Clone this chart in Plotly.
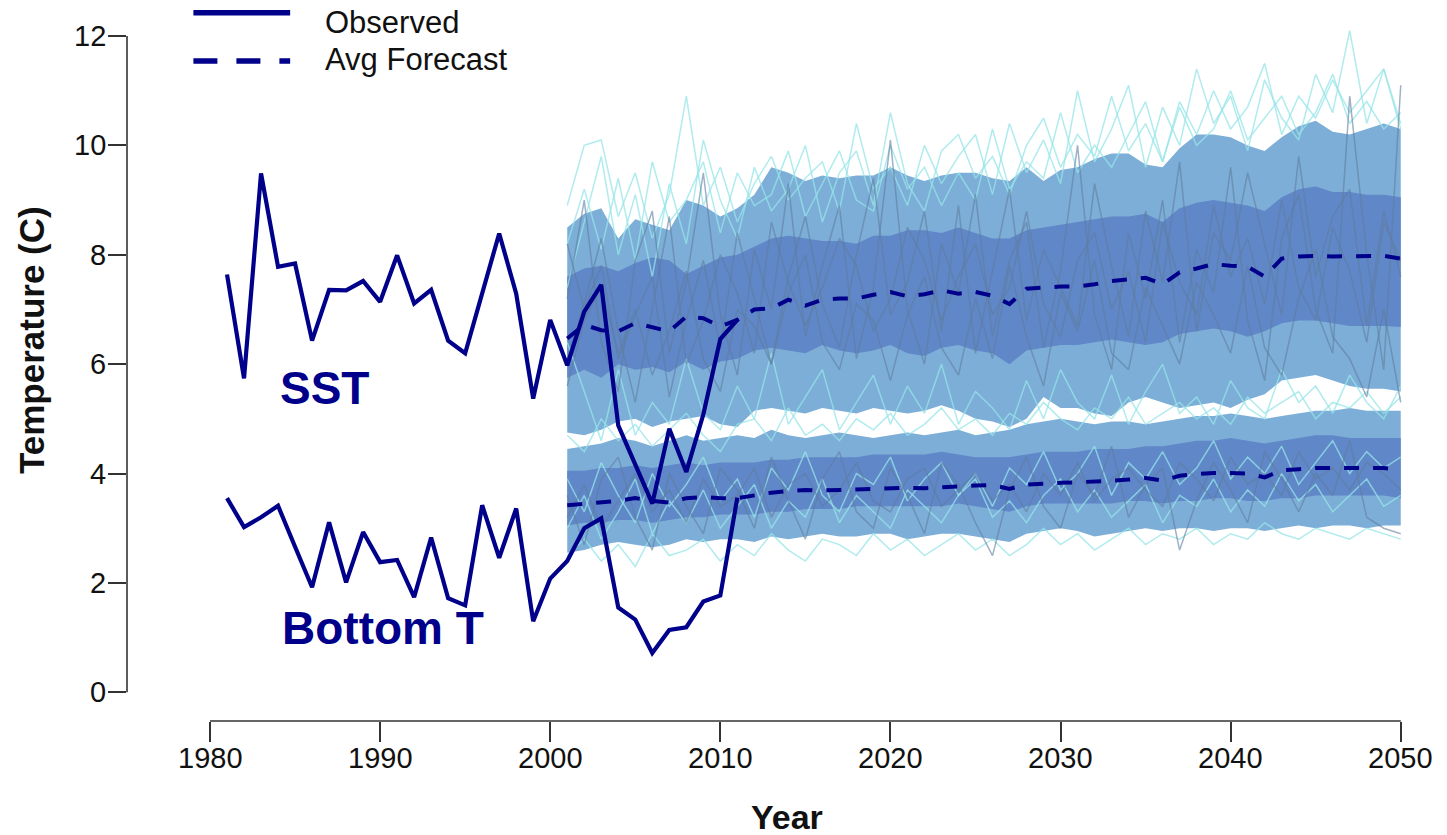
import plotly.graph_objects as go

# ---------------- data ----------------
years_obs = list(range(1981, 2012))
sst_obs = [7.64, 5.74, 9.49, 7.78, 7.84, 6.43, 7.36, 7.35, 7.52, 7.14,
           7.99, 7.11, 7.36, 6.43, 6.20, 7.30, 8.39, 7.29, 5.37, 6.81,
           5.98, 6.96, 7.45, 4.88, 4.16, 3.45, 4.82, 4.03, 5.08, 6.46, 6.81]
bot_obs = [3.55, 3.02, 3.20, 3.41, 2.66, 1.92, 3.11, 2.01, 2.93, 2.38,
           2.42, 1.74, 2.83, 1.72, 1.59, 3.42, 2.46, 3.36, 1.30, 2.08,
           2.40, 3.00, 3.18, 1.55, 1.33, 0.72, 1.14, 1.19, 1.66, 1.77, 3.56]

years_fc = list(range(2001, 2051))

sst_avg = [6.47, 6.72, 6.62, 6.60, 6.75, 6.68, 6.60, 6.87, 6.84, 6.69,
           6.81, 7.00, 7.02, 7.18, 7.07, 7.18, 7.20, 7.20, 7.27, 7.32,
           7.24, 7.28, 7.35, 7.29, 7.32, 7.25, 7.10, 7.38, 7.40, 7.42,
           7.42, 7.46, 7.52, 7.55, 7.58, 7.46, 7.68, 7.75, 7.83, 7.80,
           7.78, 7.60, 7.93, 7.97, 7.98, 7.97, 7.97, 7.98, 7.98, 7.93]
bot_avg = [3.42, 3.45, 3.47, 3.50, 3.55, 3.50, 3.47, 3.55, 3.57, 3.55,
           3.55, 3.60, 3.65, 3.68, 3.70, 3.69, 3.70, 3.71, 3.72, 3.74,
           3.74, 3.73, 3.75, 3.76, 3.78, 3.79, 3.72, 3.80, 3.82, 3.83,
           3.84, 3.85, 3.87, 3.89, 3.92, 3.87, 3.96, 3.99, 4.01, 4.01,
           4.00, 3.93, 4.06, 4.08, 4.10, 4.10, 4.10, 4.10, 4.10, 4.07]

# SST forecast envelopes (outer = 95%, inner = 50%)
sst_hi95 = [8.50, 8.75, 8.85, 8.30, 8.65, 8.55, 8.45, 9.00, 8.90, 8.70,
            8.85, 9.10, 9.60, 9.50, 9.35, 9.45, 9.40, 9.45, 9.45, 9.60,
            9.45, 9.35, 9.45, 9.50, 9.50, 9.40, 9.35, 9.60, 9.35, 9.55,
            9.60, 9.75, 9.85, 9.85, 9.65, 9.60, 9.95, 10.20, 10.20, 10.15,
            10.00, 9.90, 10.15, 10.35, 10.45, 10.25, 10.20, 10.30, 10.40, 10.30]
sst_hi50 = [7.60, 7.75, 7.80, 7.70, 7.85, 7.95, 7.90, 7.65, 7.80, 7.95,
            8.00, 8.15, 8.30, 8.35, 8.30, 8.25, 8.25, 8.20, 8.35, 8.35,
            8.45, 8.45, 8.40, 8.50, 8.40, 8.30, 8.30, 8.45, 8.50, 8.55,
            8.60, 8.65, 8.70, 8.70, 8.75, 8.60, 8.85, 8.95, 9.00, 8.95,
            8.90, 8.80, 9.05, 9.20, 9.25, 9.15, 9.15, 9.10, 9.10, 9.05]
sst_lo50 = [5.75, 5.90, 5.75, 6.00, 5.90, 5.95, 5.85, 6.05, 5.90, 6.05,
            6.10, 6.25, 6.30, 6.25, 6.20, 6.35, 6.25, 6.20, 6.25, 6.35,
            6.20, 6.15, 6.30, 6.35, 6.25, 6.20, 6.00, 6.25, 6.30, 6.35,
            6.35, 6.40, 6.45, 6.40, 6.35, 6.40, 6.55, 6.60, 6.65, 6.60,
            6.50, 6.60, 6.75, 6.80, 6.80, 6.75, 6.70, 6.70, 6.70, 6.68]
sst_lo95 = [4.75, 4.70, 4.80, 4.95, 5.00, 4.85, 4.95, 5.00, 5.05, 4.90,
            4.85, 5.15, 5.20, 5.15, 5.10, 5.20, 5.15, 5.10, 5.20, 5.15,
            5.10, 5.15, 5.25, 5.15, 5.00, 4.95, 4.85, 5.00, 5.40, 5.20,
            5.20, 5.10, 5.05, 5.30, 5.40, 5.30, 5.20, 5.25, 5.30, 5.20,
            5.35, 5.45, 5.70, 5.75, 5.80, 5.70, 5.60, 5.55, 5.55, 5.50]

# Bottom temperature forecast envelopes
bot_hi95 = [4.45, 4.50, 4.55, 4.65, 4.60, 4.50, 4.60, 4.70, 4.60, 4.65,
            4.70, 4.65, 4.80, 4.70, 4.65, 4.70, 4.75, 4.70, 4.65, 4.70,
            4.75, 4.70, 4.75, 4.80, 4.70, 4.75, 4.80, 4.90, 4.95, 5.00,
            4.95, 4.90, 4.95, 4.95, 4.90, 4.95, 5.00, 5.05, 5.05, 5.10,
            5.05, 5.00, 5.05, 5.10, 5.15, 5.15, 5.20, 5.15, 5.15, 5.15]
bot_hi50 = [4.05, 4.05, 4.10, 4.10, 4.15, 4.10, 4.15, 4.20, 4.15, 4.20,
            4.20, 4.20, 4.25, 4.25, 4.30, 4.30, 4.30, 4.30, 4.35, 4.35,
            4.35, 4.35, 4.40, 4.35, 4.30, 4.30, 4.30, 4.35, 4.40, 4.40,
            4.40, 4.45, 4.45, 4.45, 4.50, 4.50, 4.55, 4.60, 4.60, 4.65,
            4.60, 4.55, 4.60, 4.65, 4.70, 4.70, 4.65, 4.65, 4.65, 4.65]
bot_lo50 = [3.05, 3.10, 3.10, 3.15, 3.15, 3.10, 3.15, 3.20, 3.20, 3.25,
            3.25, 3.25, 3.30, 3.30, 3.35, 3.35, 3.35, 3.40, 3.40, 3.40,
            3.40, 3.40, 3.40, 3.45, 3.40, 3.35, 3.30, 3.40, 3.45, 3.45,
            3.45, 3.45, 3.45, 3.50, 3.50, 3.45, 3.50, 3.50, 3.55, 3.55,
            3.50, 3.50, 3.55, 3.55, 3.60, 3.60, 3.60, 3.60, 3.60, 3.55]
bot_lo95 = [2.55, 2.60, 2.70, 2.75, 2.70, 2.65, 2.70, 2.80, 2.75, 2.80,
            2.80, 2.75, 2.85, 2.80, 2.85, 2.90, 2.85, 2.85, 2.90, 2.90,
            2.80, 2.85, 2.90, 2.90, 2.85, 2.80, 2.75, 2.90, 2.95, 3.00,
            2.95, 2.85, 2.90, 2.95, 3.00, 2.95, 3.00, 3.00, 2.95, 3.00,
            3.00, 2.95, 3.00, 3.05, 3.00, 3.05, 3.05, 3.00, 3.05, 3.05]

# Individual ensemble members
sst_members_light = [
    [8.9, 10.0, 10.1, 8.7, 9.5, 8.3, 9.1, 10.9, 8.9, 9.6, 8.6, 9.3, 9.8, 9.0, 9.4,
     9.7, 8.8, 10.4, 9.2, 9.6, 8.9, 10.0, 9.3, 9.8, 10.2, 9.1, 10.4, 9.5, 10.1, 9.3,
     11.0, 9.7, 10.3, 11.1, 9.6, 10.7, 10.0, 11.4, 10.4, 10.9, 9.9, 11.2, 10.5, 10.1, 11.3,
     10.6, 12.1, 10.4, 11.4, 10.3],
    [6.4, 5.5, 4.6, 5.9, 4.7, 5.3, 4.9, 6.1, 5.1, 4.8, 5.6, 5.0, 6.2, 4.9, 5.4,
     5.9, 4.8, 5.3, 5.8, 4.9, 5.6, 5.1, 6.0, 4.9, 5.5, 5.2, 4.8, 5.7, 5.0, 5.9,
     5.3, 5.0, 5.8, 4.9, 5.5, 6.0, 5.1, 5.4, 4.9, 5.7, 5.2, 5.0, 5.9, 5.3, 5.6,
     5.1, 5.8, 5.3, 5.0, 5.6],
    [8.2, 9.2, 8.1, 9.4, 7.9, 9.7, 8.6, 9.0, 9.7, 8.4, 9.5, 8.9, 9.1, 9.9, 8.7,
     9.3, 9.9, 9.0, 8.8, 10.0, 9.2, 9.6, 8.9, 9.5, 9.0, 10.3, 9.2, 9.7, 9.4, 10.6,
     9.5, 10.0, 9.6, 10.2, 10.8, 9.7, 10.7, 10.0, 10.3, 11.0, 10.1, 10.5, 10.9, 10.2, 10.6,
     11.3, 10.4, 10.8, 10.3, 10.6],
    [7.4, 8.6, 9.8, 8.0, 9.1, 7.6, 9.3, 8.2, 10.1, 9.0, 8.3, 9.6, 8.8, 9.2, 10.0,
     8.6, 9.5, 9.9, 8.9, 10.6, 9.3, 8.8, 9.9, 10.2, 9.4, 9.8, 9.1, 10.0, 10.5, 9.6,
     10.2, 9.8, 10.9, 9.9, 10.4, 9.7, 10.8, 10.2, 11.0, 10.3, 10.7, 11.5, 10.2, 10.9, 10.5,
     11.2, 10.6, 11.0, 11.4, 10.4],
]
sst_members_dark = [
    [7.2, 9.0, 6.4, 5.5, 7.9, 8.8, 6.2, 7.5, 9.5, 6.9, 5.8, 8.1, 7.0, 9.3, 6.5,
     7.8, 8.9, 6.1, 7.4, 10.1, 7.0, 6.0, 8.2, 7.3, 9.1, 6.5, 7.9, 8.6, 6.3, 7.7,
     10.0, 6.9, 5.9, 8.4, 7.2, 9.0, 6.4, 8.1, 7.3, 9.6, 6.8, 5.7, 8.3, 9.1, 7.0,
     6.2, 10.9, 8.0, 5.9, 11.1],
    [6.0, 7.1, 8.3, 6.6, 5.3, 7.0, 8.7, 6.0, 6.8, 8.0, 7.3, 6.2, 8.6, 7.5, 6.7,
     7.4, 8.3, 7.8, 6.6, 7.2, 8.5, 7.9, 6.8, 7.6, 8.2, 6.9, 7.4, 8.8, 7.1, 6.5,
     7.9, 8.4, 7.0, 7.7, 6.4, 8.6, 7.5, 6.9, 8.9, 7.6, 8.3, 7.1, 9.0, 7.4, 6.8,
     8.5, 7.7, 6.4, 8.6, 7.9],
    [5.6, 6.8, 7.4, 6.2, 7.0, 5.8, 6.6, 7.7, 6.1, 5.5, 7.0, 6.7, 6.0, 7.3, 8.0,
     6.4, 5.9, 7.1, 6.8, 5.7, 6.9, 7.6, 6.3, 5.8, 7.2, 6.1, 7.8, 6.5, 5.6, 7.3,
     6.6, 7.9, 6.2, 5.9, 7.4, 6.7, 6.0, 7.5, 6.9, 6.2, 7.8, 6.3, 5.8, 7.2, 8.1,
     6.5, 6.1, 5.4, 7.0, 5.3],
    [8.2, 7.0, 7.8, 6.1, 6.9, 7.6, 5.4, 6.8, 7.9, 6.3, 8.4, 7.2, 6.0, 7.6, 8.7,
     7.1, 6.3, 8.0, 9.4, 6.9, 7.5, 8.8, 6.6, 8.9, 6.2, 7.7, 9.2, 6.8, 8.1, 7.4,
     6.7, 9.3, 7.8, 6.5, 8.8, 7.5, 9.7, 6.6, 8.4, 7.9, 9.5, 8.2, 6.9, 9.8, 7.6,
     8.7, 9.2, 6.7, 8.8, 7.6],
]
bot_members_light = [
    [4.7, 4.4, 5.0, 4.6, 4.9, 4.5, 4.8, 5.1, 4.7, 4.4, 4.9, 5.0, 4.6, 5.2, 4.7,
     4.9, 4.6, 5.0, 4.8, 5.1, 4.7, 4.9, 5.2, 4.8, 5.0, 4.7, 5.1, 4.9, 5.3, 5.0,
     4.8, 5.2, 5.0, 5.4, 4.9, 5.1, 5.3, 5.0, 5.2, 4.9, 5.4, 5.1, 5.3, 5.5, 5.0,
     5.3, 5.2, 5.5, 5.1, 5.4],
    [2.5, 2.8, 2.4, 2.7, 2.3, 2.9, 2.5, 2.6, 2.8, 2.4, 2.7, 2.5, 2.9, 2.6, 2.4,
     2.8, 2.7, 2.5, 2.9, 2.6, 2.8, 2.5, 2.7, 2.9, 2.6, 2.8, 2.5, 2.7, 3.0, 2.7,
     2.9, 2.6, 2.8, 3.0, 2.7, 2.9, 2.8, 3.0, 2.7, 2.9, 2.8, 3.1, 2.9, 2.8, 3.0,
     2.9, 2.8, 3.0, 2.9, 2.8],
    [3.9, 3.3, 4.2, 3.6, 3.1, 4.0, 3.4, 3.8, 4.3, 3.5, 3.9, 3.2, 4.1, 3.7, 4.4,
     3.6, 3.3, 4.0, 3.8, 4.3, 3.5, 3.9, 4.2, 3.6, 4.0, 3.4, 4.1, 3.8, 4.4, 3.7,
     4.0, 4.5, 3.6, 4.2, 3.9, 4.4, 3.8, 4.1, 4.6, 3.9, 4.3, 4.0, 4.5, 3.8, 4.2,
     4.6, 4.0, 4.4, 4.1, 4.3],
    [3.0, 3.6, 2.8, 3.3, 3.9, 2.9, 3.5, 3.1, 3.7, 3.0, 3.4, 3.8, 3.0, 3.5, 3.2,
     3.9, 3.1, 3.6, 3.3, 3.0, 3.7, 3.4, 3.1, 3.6, 3.9, 3.2, 3.5, 3.1, 3.6, 3.9,
     3.3, 3.7, 3.2, 3.5, 3.8, 3.1, 3.6, 3.4, 3.9, 3.3, 3.7, 3.4, 4.0, 3.5, 3.8,
     3.3, 3.6, 3.9, 3.4, 3.6],
]
bot_members_dark = [
    [3.6, 2.7, 3.9, 4.3, 3.2, 2.6, 4.0, 3.4, 2.9, 4.1, 3.7, 3.0, 4.3, 3.5, 2.8,
     3.9, 4.4, 3.3, 3.0, 4.1, 3.6, 2.9, 4.2, 3.8, 3.1, 2.5, 3.7, 4.3, 3.4, 3.0,
     4.0, 3.6, 4.5, 3.2, 3.8, 4.1, 2.6, 3.5, 4.2, 3.7, 3.1, 4.4, 3.9, 3.3, 4.0,
     3.6, 4.6, 3.2, 3.0, 2.9],
    [3.2, 3.8, 3.0, 3.5, 4.0, 3.3, 3.7, 3.1, 3.9, 3.4, 3.6, 4.1, 3.2, 3.8, 4.0,
     3.4, 3.7, 4.2, 3.5, 3.3, 3.9, 4.1, 3.4, 3.7, 4.0, 3.5, 3.8, 3.3, 4.0, 3.6,
     4.2, 3.5, 3.9, 4.1, 3.7, 3.4, 4.2, 3.9, 3.5, 4.3, 3.8, 4.0, 3.6, 4.4, 3.9,
     4.1, 3.7, 4.2, 4.0, 3.7],
]

x_ticks = [1980, 1990, 2000, 2010, 2020, 2030, 2040, 2050]
y_ticks = [0, 2, 4, 6, 8, 10, 12]

# ---------------- styles ----------------
NAVY = "#00008b"
OUTER = "#7daed7"
INNER = "#6087c7"
LIGHT_MEMBER = "rgba(150,228,232,0.75)"
DARK_MEMBER = "rgba(95,125,160,0.6)"
AXIS = "#333333"
TEXT = "#111111"
FONT = "Liberation Sans, Arial, Helvetica, sans-serif"

fig = go.Figure()


def band(lo, hi, color):
    fig.add_trace(go.Scatter(x=years_fc, y=lo, mode="lines",
                             line=dict(width=0, color=color), hoverinfo="skip"))
    fig.add_trace(go.Scatter(x=years_fc, y=hi, mode="lines", fill="tonexty",
                             fillcolor=color, line=dict(width=0, color=color),
                             hoverinfo="skip"))


band(sst_lo95, sst_hi95, OUTER)
band(bot_lo95, bot_hi95, OUTER)
band(sst_lo50, sst_hi50, INNER)
band(bot_lo50, bot_hi50, INNER)

for member in sst_members_light + bot_members_light:
    fig.add_trace(go.Scatter(x=years_fc, y=member, mode="lines",
                             line=dict(width=1.5, color=LIGHT_MEMBER)))
for member in sst_members_dark + bot_members_dark:
    fig.add_trace(go.Scatter(x=years_fc, y=member, mode="lines",
                             line=dict(width=1.5, color=DARK_MEMBER)))

for avg in (sst_avg, bot_avg):
    fig.add_trace(go.Scatter(x=years_fc, y=avg, mode="lines",
                             line=dict(width=4, color=NAVY, dash="15px,14px")))
for obs in (sst_obs, bot_obs):
    fig.add_trace(go.Scatter(x=years_obs, y=obs, mode="lines",
                             line=dict(width=4.2, color=NAVY)))

# ---------------- axes (R-style detached axes) ----------------
fig.update_layout(
    width=1447, height=835,
    margin=dict(l=127, r=0, t=0, b=114),
    paper_bgcolor="white", plot_bgcolor="white",
    showlegend=False,
    font=dict(family=FONT, color=TEXT),
    xaxis=dict(range=[1975.12, 2052.72], tickvals=x_ticks, showticklabels=False,
               ticks="outside", ticklen=20, tickwidth=1.6, tickcolor=AXIS,
               showline=False, showgrid=False, zeroline=False),
    yaxis=dict(range=[-0.525, 12.659], tickvals=y_ticks, showticklabels=False,
               ticks="outside", ticklen=18, tickwidth=1.6, tickcolor=AXIS,
               showline=False, showgrid=False, zeroline=False),
)

fig.add_shape(type="line", xref="paper", yref="y", x0=0, x1=0,
              y0=y_ticks[0], y1=y_ticks[-1], line=dict(color=AXIS, width=1.6))
fig.add_shape(type="line", xref="x", yref="paper", x0=x_ticks[0], x1=x_ticks[-1],
              y0=0, y1=0, line=dict(color=AXIS, width=1.6))

# tick labels
for v in x_ticks:
    fig.add_annotation(text=str(v), x=v, xref="x", y=-0.0515, yref="paper",
                       showarrow=False, xanchor="center", yanchor="middle",
                       font=dict(size=29, family=FONT, color=TEXT))
for v in y_ticks:
    fig.add_annotation(text=str(v), x=-0.0142, xref="paper", y=v, yref="y",
                       showarrow=False, xanchor="right", yanchor="middle",
                       font=dict(size=29, family=FONT, color=TEXT))

# axis titles
fig.add_annotation(text="<b>Year</b>", xref="paper", yref="paper", x=0.5, y=-0.1325,
                   showarrow=False, xanchor="center", yanchor="middle",
                   font=dict(size=34, family=FONT, color=TEXT))
fig.add_annotation(text="<b>Temperature (C)</b>", xref="paper", yref="paper",
                   x=-0.0727, y=0.5284, textangle=-90, showarrow=False,
                   xanchor="center", yanchor="middle",
                   font=dict(size=35, family=FONT, color=TEXT))

# series labels
fig.add_annotation(text="<b>SST</b>", x=1984.0, y=5.56, xref="x", yref="y",
                   showarrow=False, xanchor="left", yanchor="middle",
                   font=dict(size=46, family=FONT, color=NAVY))
fig.add_annotation(text="<b>Bottom T</b>", x=1984.1, y=1.17, xref="x", yref="y",
                   showarrow=False, xanchor="left", yanchor="middle",
                   font=dict(size=46, family=FONT, color=NAVY))

# legend
fig.add_shape(type="line", xref="paper", yref="paper", x0=0.0503, x1=0.1236,
              y0=0.9824, y1=0.9824, line=dict(color=NAVY, width=5.5))
fig.add_shape(type="line", xref="paper", yref="paper", x0=0.0503, x1=0.1236,
              y0=0.9154, y1=0.9154, line=dict(color=NAVY, width=5.5, dash="24px,19px"))
fig.add_annotation(text="Observed", xref="paper", yref="paper", x=0.1485, y=0.969,
                   showarrow=False, xanchor="left", yanchor="middle",
                   font=dict(size=31, family=FONT, color=TEXT))
fig.add_annotation(text="Avg Forecast", xref="paper", yref="paper", x=0.1485, y=0.917,
                   showarrow=False, xanchor="left", yanchor="middle",
                   font=dict(size=31, family=FONT, color=TEXT))

fig.write_html("out.html")
